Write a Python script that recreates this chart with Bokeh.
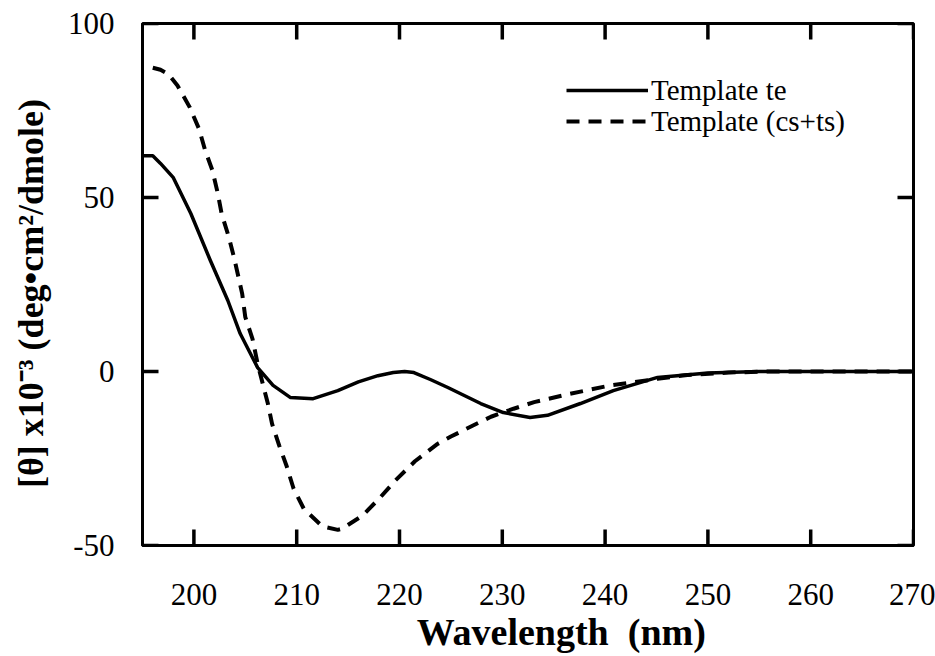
from bokeh.plotting import figure
from bokeh.models import Range1d, FixedTicker, Legend, LegendItem
from bokeh.embed import file_html
from bokeh.resources import INLINE

# ---- data ----
wl_te = [195.0, 196.0, 196.75, 198.0, 199.7, 201.6, 203.3, 204.5, 206.2, 207.7,
         209.4, 211.6, 214.0, 216.0, 217.9, 219.4, 220.5, 221.4, 223.0, 224.7,
         227.9, 230.1, 232.7, 234.4, 237.6, 240.8, 245.1, 250.0, 255.0, 260.0,
         265.0, 270.0]
theta_te = [62.0, 62.0, 59.8, 55.7, 45.4, 31.9, 20.4, 10.9, 1.1, -4.0,
            -7.5, -7.8, -5.5, -3.0, -1.2, -0.3, 0.0, -0.3, -2.3, -4.6,
            -9.2, -11.8, -13.2, -12.6, -9.2, -5.5, -1.7, -0.4, 0.0, 0.0,
            0.0, 0.0]

wl_csts = [196.0, 196.75, 197.5, 198.4, 199.6, 200.5, 201.1, 201.8, 202.3, 202.7,
           203.4, 203.9, 204.3, 204.7, 205.0, 205.7, 206.2, 207.2, 207.6, 208.3,
           209.0, 209.7, 210.7, 212.5, 214.0, 214.4, 216.4, 218.0, 219.6, 221.5,
           223.7, 225.0, 227.1, 228.9, 231.1, 233.1, 236.6, 240.5, 242.8, 245.1,
           248.0, 252.0, 256.0, 260.0, 265.0, 270.0]
theta_csts = [87.3, 86.7, 85.5, 82.2, 75.9, 69.7, 63.5, 57.8, 51.5, 45.3,
              38.6, 32.8, 27.6, 22.3, 15.6, 9.4, 2.2, -9.3, -15.0, -21.3,
              -27.0, -33.7, -39.5, -44.5, -45.5, -45.2, -41.4, -36.6, -31.3, -25.8,
              -20.8, -18.7, -15.6, -13.0, -10.7, -8.8, -6.4, -4.0, -3.1, -2.1,
              -1.0, -0.3, 0.0, 0.0, 0.0, 0.0]

x_ticks = [200, 210, 220, 230, 240, 250, 260, 270]
y_ticks = [-50, 0, 50, 100]
y_tick_labels = {-50: "-50", 0: "0", 50: "50", 100: "100"}
series_names = ["Template te", "Template (cs+ts)"]
x_title = "Wavelength  (nm)"
y_title = "[\u03b8]  x10\u207b\u00b3  (deg\u2022cm\u00b2/dmole)"

X_LO, X_HI = 195, 270
Y_LO, Y_HI = -50, 100

SERIF = "Liberation Serif"
FRAME_W, FRAME_H = 771, 522          # frame size in pixels (935-142-22, 656-23-111)
TICK_PX = 16                          # inward tick length in pixels
PX_X = (X_HI - X_LO) / FRAME_W        # data units per pixel
PX_Y = (Y_HI - Y_LO) / FRAME_H

p = figure(width=935, height=656, x_range=Range1d(X_LO, X_HI), y_range=Range1d(Y_LO, Y_HI),
           output_backend="svg", toolbar_location=None,
           min_border_left=142, min_border_right=22, min_border_top=23, min_border_bottom=111)

p.xgrid.visible = False
p.ygrid.visible = False
p.outline_line_color = "black"
p.outline_line_width = 3
p.background_fill_color = "white"
p.border_fill_color = "white"

for ax in (p.xaxis[0], p.yaxis[0]):
    ax.axis_line_width = 3
    ax.axis_line_color = "black"
    ax.major_tick_in = 0
    ax.major_tick_out = 0
    ax.minor_tick_line_color = None
    ax.major_label_text_font = SERIF
    ax.major_label_text_font_size = "31px"
    ax.major_label_text_color = "black"
    ax.axis_label_text_font = SERIF
    ax.axis_label_text_font_style = "bold"
    ax.axis_label_text_color = "black"

xa = p.xaxis[0]
xa.ticker = FixedTicker(ticks=x_ticks)
xa.major_label_standoff = 38
xa.axis_label = "\u00a0" * 7 + x_title.replace(" ", "\u00a0")
xa.axis_label_text_font_size = "38px"
xa.axis_label_standoff = 3

ya = p.yaxis[0]
ya.ticker = FixedTicker(ticks=y_ticks)
ya.major_label_overrides = y_tick_labels
ya.major_label_standoff = 28
ya.axis_label = y_title
ya.axis_label_text_font_size = "36px"
ya.axis_label_standoff = 14

# inward tick marks on all four sides, as one multi-line glyph
tick_xs, tick_ys = [], []
for t in x_ticks:
    tick_xs += [[t, t], [t, t]]
    tick_ys += [[Y_LO, Y_LO + TICK_PX * PX_Y], [Y_HI, Y_HI - TICK_PX * PX_Y]]
for t in y_ticks:
    tick_xs += [[X_LO, X_LO + TICK_PX * PX_X], [X_HI, X_HI - TICK_PX * PX_X]]
    tick_ys += [[t, t], [t, t]]
p.multi_line(tick_xs, tick_ys, line_color="black", line_width=3.5)

r_te = p.line(wl_te, theta_te, line_color="black", line_width=3.5, line_join="round")
r_cs = p.line(wl_csts, theta_csts, line_color="black", line_width=4, line_dash="13 9")

for r, name, vy in [(r_te, series_names[0], 435), (r_cs, series_names[1], 404)]:
    leg = Legend(items=[LegendItem(label=name, renderers=[r])], location=(424, vy),
                 glyph_width=82, glyph_height=40, label_height=40, label_standoff=3,
                 padding=0, margin=0, spacing=0,
                 border_line_color=None, background_fill_alpha=0,
                 label_text_font=SERIF, label_text_font_size="29px", label_text_color="black")
    p.add_layout(leg, "center")

open("out.html", "w").write(file_html(p, INLINE))
